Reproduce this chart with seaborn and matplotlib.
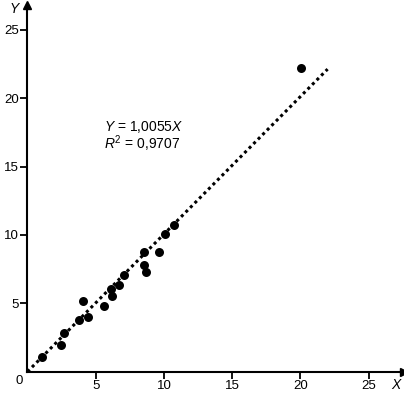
import matplotlib
matplotlib.use('Agg')
import matplotlib.pyplot as plt
import seaborn as sns
import numpy as np
import pandas as pd

# observed points
x_vals = [1.05, 2.46, 2.70, 3.78, 4.46, 4.05, 5.58, 6.17, 6.12, 6.71, 7.10,
          8.56, 8.66, 8.56, 9.66, 10.05, 10.73, 20.08]
y_vals = [1.09, 1.95, 2.85, 3.78, 3.97, 5.19, 4.80, 5.56, 6.02, 6.36, 7.10,
          7.78, 7.29, 8.73, 8.78, 10.07, 10.75, 22.2]

slope = 1.0055
fit_x = [0, 22]
ticks = [5, 10, 15, 20, 25]

sns.set_style('white')
plt.rcParams['font.family'] = ['Liberation Sans', 'DejaVu Sans']
plt.rcParams['mathtext.fontset'] = 'custom'
plt.rcParams['mathtext.rm'] = 'Liberation Sans'
plt.rcParams['mathtext.it'] = 'Liberation Sans:italic'
plt.rcParams['text.color'] = 'black'
plt.rcParams['xtick.color'] = 'black'
plt.rcParams['ytick.color'] = 'black'

df = pd.DataFrame({'x': x_vals, 'y': y_vals})
fit = pd.DataFrame({'x': fit_x, 'y': [slope * v for v in fit_x]})

fig = plt.figure(figsize=(4.04, 3.95), dpi=100)
ax = fig.add_axes([0.068, 0.059, 0.932, 0.928])

sns.lineplot(data=fit, x='x', y='y', ax=ax, color='black', linewidth=2.2,
             linestyle=(0, (1, 1.1)), dash_capstyle='butt')
sns.scatterplot(data=df, x='x', y='y', ax=ax, color='black', s=42,
                edgecolor='black', linewidth=0, zorder=3)

ax.set_xlim(0, 27.6)
ax.set_ylim(0, 26.8)
ax.set_xticks(ticks)
ax.set_yticks(ticks)
ax.set_xlabel('')
ax.set_ylabel('')
for s in ['top', 'right']:
    ax.spines[s].set_visible(False)
for s in ['left', 'bottom']:
    ax.spines[s].set_linewidth(1.5)
    ax.spines[s].set_color('black')
ax.tick_params(axis='both', direction='out', length=5, width=1.3,
               labelsize=9.5, colors='black', pad=1, bottom=True, left=True)

# axis arrows
ax.plot(1, 0, '>', color='black', markersize=6, transform=ax.transAxes,
        clip_on=False)
ax.plot(0, 1, '^', color='black', markersize=6, transform=ax.transAxes,
        clip_on=False)

ax.text(-0.35, -0.25, '0', ha='right', va='top', fontsize=9.5)
ax.text(26.7, -1.0, 'X', ha='left', va='center', fontsize=10, style='italic')
ax.text(-0.6, 26.5, 'Y', ha='right', va='center', fontsize=10, style='italic')

ax.text(5.6, 17.2, '$Y$ = 1,0055$X$\n$R^2$ = 0,9707', ha='left',
        va='center', fontsize=10, linespacing=0.95)

fig.savefig('out.png', dpi=100)
